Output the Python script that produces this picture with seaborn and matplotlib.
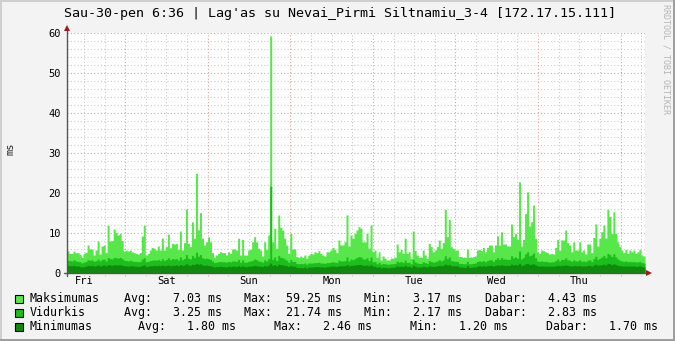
import numpy as np
import pandas as pd
import matplotlib
matplotlib.use("Agg")
import matplotlib.pyplot as plt
import seaborn as sns
from matplotlib.patches import Rectangle

# ---------------- data ----------------
TITLE = "Sau-30-pen 6:36 | Lag'as su Nevai_Pirmi Siltnamiu_3-4 [172.17.15.111]"
Y_LABEL = "ms"
WATERMARK = "RRDTOOL / TOBI OETIKER"
DAY_LABELS = ["Fri", "Sat", "Sun", "Mon", "Tue", "Wed", "Thu"]
Y_TICKS = [0, 10, 20, 30, 40, 50, 60]
SPAN_HOURS = 168            # one week, Fri 06:36 -> Fri 06:36
HOURS_TO_FIRST_MIDNIGHT = 16.9

SERIES_NAMES = ["Maksimumas", "Vidurkis", "Minimumas"]
# legend rows: list of (segment text, left x in pixels)
LEGEND_ROWS = [
    [("Maksimumas", 30), ("Avg:   7.03 ms", 123.5), ("Max:  59.25 ms", 243.5),
     ("Min:   3.17 ms", 364), ("Dabar:   4.43 ms", 485)],
    [("Vidurkis", 30), ("Avg:   3.25 ms", 123.5), ("Max:  21.74 ms", 243.5),
     ("Min:   2.17 ms", 364), ("Dabar:   2.83 ms", 485)],
    [("Minimumas", 30), ("Avg:   1.80 ms", 138), ("Max:   2.46 ms", 274.5),
     ("Min:   1.20 ms", 410.5), ("Dabar:   1.70 ms", 546.5)],
]

MAX_MS = [
    5.5, 4.9, 4.9, 5.5, 5.1, 5.1, 4.7, 3.9,
    4.9, 5.2, 7.0, 6.0, 6.0, 4.5, 5.75, 8.0,
    4.75, 6.75, 7.0, 5.1, 11.9, 8.0, 8.1, 11.0,
    10.1, 9.5, 9.9, 8.1, 5.5, 5.75, 5.5, 5.75,
    5.3, 5.1, 4.9, 4.75, 5.1, 9.25, 11.9, 4.5,
    4.9, 5.75, 6.4, 6.2, 5.75, 6.75, 5.75, 8.75,
    5.75,
    6.6, 9.7, 6.3, 7.4, 7.25, 7.4, 5.9, 10.5,
    5.75, 7.6, 16.0, 7.4, 6.6, 12.8, 8.7, 24.9,
    10.8, 15.1, 8.7, 7.0, 7.8, 9.0, 7.8, 5.1,
    3.9, 4.5, 4.9, 5.3, 5.1, 5.1, 4.5, 5.3,
    4.9, 6.0, 6.0, 5.75, 8.7, 4.5, 8.4, 4.5,
    4.5, 5.75, 5.9, 7.8, 9.1, 7.8, 6.2, 5.75,
    4.25, 7.8, 5.9, 9.5, 59.25, 7.8, 11.2, 6.2,
    14.5, 11.4, 10.75, 8.7, 7.0, 4.9, 9.9, 6.0,
    6.0, 4.1, 3.9, 4.25, 3.9, 4.5, 3.7, 4.5,
    4.9, 4.75, 5.3, 5.1, 5.6, 4.9, 4.5, 4.25,
    5.3, 5.3, 5.75, 6.4, 5.9, 5.1, 8.25, 7.0,
    7.0, 7.8, 14.5, 6.75, 9.5, 8.7, 9.9, 10.75,
    11.6, 11.2, 7.8, 7.8, 9.9, 6.2, 12.0, 5.3,
    5.75, 3.9, 5.3, 3.25, 4.25, 3.7, 3.25, 3.25,
    3.7, 3.7, 3.9, 7.25, 5.3, 5.9, 4.9, 8.7,
    4.9, 5.3, 3.7, 10.5, 5.6, 4.5, 3.9, 3.9,
    5.75, 4.5, 3.7, 7.4, 6.6, 5.3, 5.75, 6.6,
    8.25, 6.2, 7.6, 15.9, 9.1, 13.4, 6.6, 6.2,
    5.75, 5.75, 4.1, 4.1, 3.9, 3.9, 6.0, 3.9,
    3.9, 4.1, 4.25, 5.75, 5.9, 5.6, 6.4, 5.3,
    6.4, 7.0, 7.0, 5.3, 7.0, 9.25, 7.0, 10.3,
    7.25, 7.25, 6.75, 6.75, 12.25, 9.1, 9.9, 8.4,
    22.8, 6.75, 8.4, 14.9, 20.3, 11.75, 12.8, 17.0,
    8.7, 5.3, 4.9, 5.75, 5.6, 5.3, 5.1, 4.75,
    4.9, 4.75, 6.4, 8.4, 5.75, 8.25, 8.25, 10.75,
    7.6, 7.0, 5.3, 7.8, 5.75, 5.75, 7.8, 5.3,
    5.75, 4.75, 7.25, 7.25, 5.1, 8.9, 12.25, 6.75,
    8.7, 10.3, 12.0, 8.7, 15.9, 14.1, 9.9, 15.3,
    9.9, 7.8, 6.6, 5.75, 5.1, 5.9, 4.9, 5.75,
    5.3, 5.75, 4.9, 5.3, 5.9, 4.5, 4.25,
]

AVG_MS = [
    3.2, 3.1, 3.0, 3.3, 3.0, 2.9, 2.8, 2.5,
    2.7, 2.9, 3.3, 3.2, 3.3, 2.9, 3.1, 3.5,
    3.0, 3.4, 3.5, 3.0, 3.9, 3.6, 3.5, 3.9,
    3.8, 3.7, 3.9, 3.6, 3.2, 3.1, 3.0, 3.2,
    3.0, 2.9, 2.9, 2.8, 2.9, 3.5, 3.8, 2.8,
    2.9, 3.1, 3.2, 3.3, 3.2, 3.4, 3.1, 3.6,
    3.1,
    3.4, 3.8, 3.3, 3.6, 3.5, 3.6, 3.2, 4.0,
    3.3, 3.6, 4.6, 3.7, 3.5, 4.4, 3.9, 5.2,
    4.2, 4.6, 3.8, 3.6, 3.7, 3.6, 3.4, 3.0,
    2.6, 2.7, 2.8, 2.9, 2.8, 2.8, 2.7, 2.9,
    2.8, 3.0, 3.0, 2.9, 3.4, 2.7, 3.3, 2.7,
    2.7, 2.9, 3.0, 3.2, 3.5, 3.3, 3.0, 2.9,
    2.7, 3.3, 3.0, 3.6, 21.74, 3.4, 4.0, 3.1,
    4.4, 3.9, 3.8, 3.5, 3.2, 2.7, 3.4, 2.9,
    2.9, 2.4, 2.3, 2.4, 2.3, 2.5, 2.2, 2.5,
    2.5, 2.5, 2.6, 2.6, 2.7, 2.5, 2.5, 2.4,
    2.6, 2.6, 2.7, 2.8, 2.7, 2.6, 3.2, 3.0,
    3.0, 3.1, 4.0, 3.0, 3.5, 3.3, 3.6, 3.9,
    4.1, 4.0, 3.5, 3.5, 3.8, 3.1, 4.0, 2.8,
    2.9, 2.3, 2.7, 2.2, 2.4, 2.3, 2.2, 2.2,
    2.3, 2.3, 2.4, 3.0, 2.7, 2.9, 2.6, 3.2,
    2.6, 2.7, 2.3, 3.4, 2.8, 2.5, 2.4, 2.4,
    2.8, 2.6, 2.4, 3.1, 2.9, 2.7, 2.8, 3.0,
    3.3, 3.0, 3.3, 4.3, 3.6, 4.0, 3.1, 3.0,
    2.9, 2.9, 2.4, 2.4, 2.3, 2.3, 2.9, 2.3,
    2.3, 2.4, 2.5, 2.9, 3.0, 2.9, 3.1, 2.8,
    3.1, 3.3, 3.3, 2.9, 3.4, 3.8, 3.4, 3.9,
    3.5, 3.5, 3.4, 3.4, 4.3, 3.8, 4.0, 3.7,
    5.5, 3.5, 3.9, 4.8, 5.3, 4.3, 4.5, 5.0,
    3.8, 3.0, 2.9, 3.0, 2.9, 2.9, 2.8, 2.7,
    2.8, 2.8, 3.1, 3.5, 3.0, 3.4, 3.4, 3.8,
    3.3, 3.2, 2.9, 3.3, 3.0, 3.0, 3.3, 2.9,
    3.0, 2.8, 3.2, 3.3, 2.9, 3.6, 4.2, 3.4,
    3.7, 4.0, 4.4, 3.8, 4.9, 4.6, 4.1, 4.8,
    4.0, 3.5, 3.2, 3.0, 2.9, 3.0, 2.8, 2.9,
    2.8, 2.9, 2.7, 2.8, 2.9, 2.6, 2.5,
]

MIN_MS = [
    1.9, 1.8, 1.8, 1.9, 1.7, 1.8, 1.6, 1.5,
    1.6, 1.7, 1.9, 1.8, 1.9, 1.7, 1.8, 2.0,
    1.7, 1.9, 2.0, 1.8, 2.1, 2.0, 1.9, 2.1,
    2.0, 2.0, 2.1, 1.9, 1.8, 1.8, 1.7, 1.8,
    1.8, 1.7, 1.7, 1.6, 1.7, 1.9, 2.0, 1.6,
    1.7, 1.8, 1.8, 1.9, 1.8, 1.9, 1.8, 2.0,
    1.8,
    1.9, 2.0, 1.8, 1.9, 1.9, 2.0, 1.8, 2.1,
    1.9, 2.0, 2.3, 2.0, 1.9, 2.2, 2.1, 2.4,
    2.2, 2.3, 2.0, 1.9, 2.0, 1.9, 1.8, 1.7,
    1.5, 1.6, 1.6, 1.7, 1.6, 1.6, 1.5, 1.7,
    1.6, 1.7, 1.7, 1.6, 1.8, 1.6, 1.8, 1.6,
    1.6, 1.7, 1.7, 1.8, 1.9, 1.8, 1.7, 1.7,
    1.6, 1.9, 1.7, 2.0, 2.46, 1.9, 2.1, 1.8,
    2.2, 2.1, 2.0, 1.9, 1.8, 1.6, 1.9, 1.7,
    1.7, 1.4, 1.3, 1.4, 1.3, 1.5, 1.2, 1.5,
    1.5, 1.5, 1.6, 1.6, 1.6, 1.5, 1.5, 1.4,
    1.6, 1.6, 1.7, 1.7, 1.7, 1.6, 1.8, 1.8,
    1.8, 1.8, 2.1, 1.8, 1.9, 1.9, 2.0, 2.1,
    2.1, 2.1, 1.9, 1.9, 2.0, 1.8, 2.1, 1.7,
    1.7, 1.4, 1.6, 1.3, 1.4, 1.4, 1.3, 1.3,
    1.4, 1.4, 1.5, 1.8, 1.6, 1.7, 1.6, 1.9,
    1.6, 1.7, 1.4, 1.9, 1.7, 1.5, 1.5, 1.5,
    1.7, 1.6, 1.5, 1.8, 1.7, 1.6, 1.7, 1.8,
    1.9, 1.8, 1.9, 2.2, 2.0, 2.1, 1.8, 1.8,
    1.8, 1.8, 1.5, 1.5, 1.4, 1.4, 1.8, 1.4,
    1.4, 1.5, 1.5, 1.7, 1.8, 1.7, 1.8, 1.7,
    1.8, 1.9, 1.9, 1.7, 1.9, 2.0, 1.9, 2.1,
    1.9, 1.9, 1.9, 1.9, 2.2, 2.0, 2.1, 2.0,
    2.4, 1.9, 2.0, 2.3, 2.4, 2.1, 2.2, 2.3,
    2.0, 1.8, 1.7, 1.8, 1.7, 1.7, 1.7, 1.7,
    1.7, 1.7, 1.8, 1.9, 1.8, 1.9, 1.9, 2.0,
    1.9, 1.8, 1.7, 1.9, 1.8, 1.8, 1.9, 1.7,
    1.8, 1.7, 1.9, 1.9, 1.7, 2.0, 2.2, 1.9,
    2.0, 2.1, 2.2, 2.0, 2.4, 2.3, 2.1, 2.3,
    2.1, 1.9, 1.8, 1.8, 1.7, 1.8, 1.7, 1.8,
    1.7, 1.8, 1.6, 1.7, 1.8, 1.6, 1.5,
]

COLORS = ["#58E74B", "#1CBD1C", "#11890F"]
GRID_MINOR = "#CACACA"
GRID_MAJOR = "#E4A0A0"

# ---------------- figure ----------------
sns.set_theme(style="white")
plt.rcParams["font.family"] = ["DejaVu Sans Mono"]

W, H = 675, 341
fig = plt.figure(figsize=(W / 100, H / 100), dpi=100, facecolor="#F3F3F3")
L, R, T, B = 67, 645, 33, 273
ax = fig.add_axes([L / W, 1 - B / H, (R - L) / W, (B - T) / H])
ax.set_facecolor("white")

n = len(MAX_MS)
step_h = SPAN_HOURS / n
centers = (np.arange(n) + 0.5) * step_h
df = pd.DataFrame({"t": centers, "max": MAX_MS, "avg": AVG_MS, "min": MIN_MS})

for col, c in zip(["max", "avg", "min"], COLORS):
    sns.histplot(data=df, x="t", weights=col, bins=n, binrange=(0, SPAN_HOURS),
                 element="step", fill=True, color=c, alpha=1, linewidth=0,
                 ax=ax, zorder=2)

ax.set_xlim(0, SPAN_HOURS)
ax.set_ylim(0, 60)
ax.set_xlabel("")
ax.set_ylabel("")
for s in ax.spines.values():
    s.set_visible(False)

# grid (rrdtool style, behind data, with short stubs below the x axis)
px_x = 1 / (R - L)
px_y = 1 / (B - T)
xtr = ax.get_xaxis_transform()
minor_x = np.arange(HOURS_TO_FIRST_MIDNIGHT - 12, SPAN_HOURS, 6)
major_x = np.arange(HOURS_TO_FIRST_MIDNIGHT, SPAN_HOURS, 24)
dots = (0, (1, 2))
for xv in minor_x:
    if not np.any(np.isclose(xv, major_x)):
        ax.plot([xv, xv], [-3 * px_y, 1], color=GRID_MINOR, lw=0.8, ls=dots,
                transform=xtr, clip_on=False, zorder=1)
for yv in range(2, 60, 2):
    if yv % 10:
        ax.axhline(yv, color=GRID_MINOR, lw=0.8, ls=dots, zorder=1)
for xv in major_x:
    ax.plot([xv, xv], [-3 * px_y, 1], color=GRID_MAJOR, lw=0.8, ls=dots,
            transform=xtr, clip_on=False, zorder=1)
for yv in Y_TICKS[1:]:
    ax.axhline(yv, color=GRID_MAJOR, lw=0.8, ls=dots, zorder=1)

# ticks
noon_x = np.arange(HOURS_TO_FIRST_MIDNIGHT - 12, SPAN_HOURS, 24)
ax.set_xticks(noon_x[:len(DAY_LABELS)])
ax.set_xticklabels(DAY_LABELS)
ax.set_yticks(Y_TICKS)
ax.set_yticklabels([str(v) for v in Y_TICKS])
ax.tick_params(axis="x", length=0, pad=2.5, labelsize=7.5, colors="black")
ax.tick_params(axis="y", length=0, pad=4.5, labelsize=7.5, colors="black")

# axes lines with arrows
ax.plot([0, 0], [-3 * px_y, 1 + 5 * px_y], color="#555555", lw=1,
        transform=ax.transAxes, clip_on=False, zorder=5)
ax.plot([-3 * px_x, 1 + 4 * px_x], [0, 0], color="#555555", lw=1,
        transform=ax.transAxes, clip_on=False, zorder=5)
ax.plot([0], [1 + 5 * px_y], marker="^", ms=4.5, color="#9B1B1B",
        transform=ax.transAxes, clip_on=False, zorder=6, mew=0)
ax.plot([1 + 4 * px_x], [0], marker=">", ms=4.5, color="#9B1B1B",
        transform=ax.transAxes, clip_on=False, zorder=6, mew=0)

# texts
fig.text(340.5 / W, 1 - 13 / H, TITLE, ha="center", va="center", fontsize=9.6, color="black")
fig.text(10 / W, 1 - 149 / H, Y_LABEL, ha="center", va="center", rotation=90, fontsize=7.5)
fig.text(666 / W, 1 - 4 / H, WATERMARK, ha="center", va="top", rotation=270,
         fontsize=6.0, color="#B4B4B4")

row_y = [298.5, 312.5, 326.5]
for segs, c, yy in zip(LEGEND_ROWS, COLORS, row_y):
    fig.add_artist(Rectangle((15 / W, 1 - (yy + 4) / H), 8 / W, 8 / H,
                             facecolor=c, edgecolor="black", lw=0.8,
                             transform=fig.transFigure))
    for txt, xpx in segs:
        fig.text(xpx / W, 1 - yy / H, txt, ha="left", va="center",
                 fontsize=8.42, color="black")

# 3D frame
def frame(x0, y0, w, h, col):
    fig.add_artist(Rectangle((x0 / W, 1 - (y0 + h) / H), w / W, h / H,
                             facecolor=col, edgecolor="none", transform=fig.transFigure))
frame(0, 0, W, 2, "#CFCFCF")
frame(0, 0, 2, H, "#CFCFCF")
frame(W - 2, 0, 2, H, "#9E9E9E")
frame(0, H - 2, W, 2, "#9E9E9E")

fig.savefig("out.png", dpi=100, facecolor=fig.get_facecolor())
